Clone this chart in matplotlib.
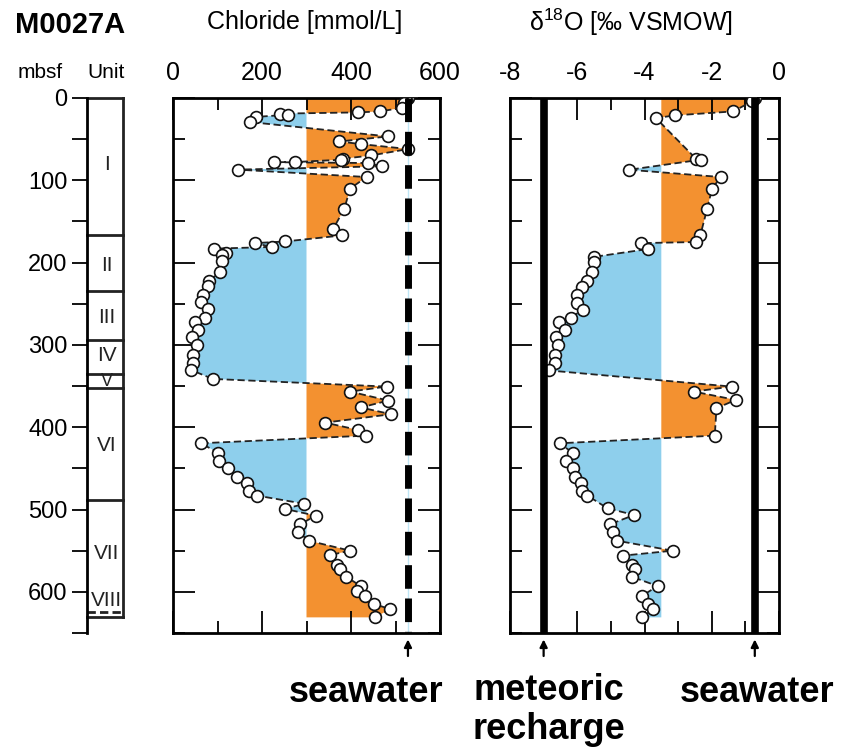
import numpy as np
import matplotlib
matplotlib.use('Agg')
import matplotlib.pyplot as plt
from matplotlib.ticker import MultipleLocator

plt.rcParams['font.family'] = ['Liberation Sans', 'DejaVu Sans']
plt.rcParams['axes.unicode_minus'] = False

# Lithologic units (top depth, bottom depth, label)
unit_tops = [0, 166, 235, 294, 335, 352, 489]
unit_bottoms = [166, 235, 294, 335, 352, 489, 624]
unit_names = ['I', 'II', 'III', 'IV', 'V', 'VI', 'VII']
unit_label_depths = [81, 203, 267, 313, 345, 422, 553]

# Chloride profile
cl_depth = [0.5, 3, 6, 12, 16.3, 17.5, 19, 20.3, 23, 29.2, 46.7, 52.8, 56, 62, 69.8,
            73.8, 75, 77.8, 78, 79, 83, 87, 96, 110, 134.6, 159, 167, 174.3, 176.3,
            181, 183, 188.5, 190.5, 198.6, 210.8, 222, 229, 239, 248, 256.5, 266.7,
            271.6, 281.7, 290.6, 300, 312, 321.4, 330.3, 341.3, 350.6, 356.7, 367.6,
            376, 384.2, 394.4, 403.3, 410.2, 419.5, 430.9, 441, 449, 460, 468, 477,
            483, 493, 499.3, 507.5, 518, 527.7, 538, 550, 555.3, 567.4, 572.7, 581.6,
            593, 599, 604.7, 614.8, 621, 631]
cl_value = [527, 524, 520, 514, 465, 415, 240, 259, 186, 173, 484, 374, 422, 529, 445,
            383, 378, 274, 228, 439, 469, 145, 435, 398, 385, 360, 380, 252, 184,
            222, 93, 120, 109, 109, 106, 82, 78, 67, 64, 79, 72,
            49, 57, 42, 53, 46, 44, 40, 89, 480, 398, 484,
            422, 490, 342, 416, 434, 62, 102, 104, 123, 143, 166, 171,
            188, 295, 252, 321, 285, 282, 306, 398, 353, 368, 375, 389,
            422, 414, 432, 452, 488, 454]

# Oxygen isotope profile
o18_depth = [0.5, 2, 4, 16.3, 21.1, 24.4, 74.2, 75, 87.2, 96, 110, 135, 167, 175, 176.3,
             183.6, 193, 199.4, 211.6, 222, 229.8, 239, 248.5, 257.4, 266.7, 272.4,
             281.7, 290.6, 300, 312, 322, 331, 350.6, 356.7, 366.8, 377, 410.2, 419.5,
             431.6, 441, 449, 460, 468, 477, 483, 498.5, 506.6, 518, 527.7, 537.8, 550,
             556, 567.4, 572.3, 581.6, 593, 605, 615, 621, 631]
o18_value = [-0.72, -0.76, -0.8, -1.36, -3.09, -3.66, -2.46, -2.33, -4.46, -1.73, -1.99,
             -2.14, -2.34, -2.48, -4.11, -3.91, -5.5, -5.5, -5.55, -5.72, -5.87, -6.02,
             -6.02, -5.83, -6.2, -6.53, -6.37, -6.63, -6.58, -6.67, -6.67, -6.85, -1.41,
             -2.53, -1.29, -1.86, -1.91, -6.52, -6.12, -6.32, -6.12, -6.08, -5.9, -5.87,
             -5.7, -5.1, -4.31, -5.03, -4.93, -4.83, -3.16, -4.64, -4.36, -4.28, -4.38,
             -3.61, -4.08, -3.91, -3.76, -4.06]

cl_base = 300
cl_seawater = 528
o18_base = -3.5
o18_meteoric = -7.0
o18_seawater = -0.72

orange = '#F39130'
blue = '#8ECFEC'

W, H = 841, 752
fig = plt.figure(figsize=(W / 100, H / 100), dpi=100)


def px_axes(left, top, right, bottom):
    return fig.add_axes([left / W, 1 - bottom / H, (right - left) / W, (bottom - top) / H])


# ---- unit column ----
axu = px_axes(87, 98, 123, 633)
axu.set_xlim(0, 1)
axu.set_ylim(650, 0)
for s in ['top', 'right', 'bottom']:
    axu.spines[s].set_visible(False)
axu.spines['left'].set_linewidth(2)
axu.set_xticks([])
axu.yaxis.set_major_locator(MultipleLocator(100))
axu.yaxis.set_minor_locator(MultipleLocator(50))
axu.tick_params(axis='y', which='both', direction='out', length=11, width=1.3, labelsize=17, pad=3)
axu.set_yticks(range(0, 601, 100))
for d in unit_tops + [624, 630]:
    axu.plot([0, 1], [d, d], color='#222222', lw=2, clip_on=False,
             ls=(0, (3, 1.5)) if d == 624 else '-')
axu.plot([1, 1], [0, 630], color='#222222', lw=2, clip_on=False)
for name, d in zip(unit_names, unit_label_depths):
    axu.text(0.55, d, name, ha='center', va='center', fontsize=15 if name != 'V' else 13,
             color='#222222')
axu.text(0.55, 610, 'VIII', ha='center', va='center', fontsize=15, color='#222222')


def style_panel(ax, major, minor):
    for s in ax.spines.values():
        s.set_linewidth(2)
    ax.xaxis.set_major_locator(MultipleLocator(major))
    ax.xaxis.set_minor_locator(MultipleLocator(minor))
    ax.yaxis.set_major_locator(MultipleLocator(100))
    ax.yaxis.set_minor_locator(MultipleLocator(50))
    ax.tick_params(which='both', direction='in', top=True, bottom=True, left=True, right=True,
                   labeltop=True, labelbottom=False, labelleft=False, width=1.3)
    ax.tick_params(which='major', length=16)
    ax.tick_params(which='minor', length=8.5)
    ax.tick_params(axis='x', labelsize=18, pad=9)


def draw_profile(ax, depth, value, base):
    depth = np.array(depth)
    value = np.array(value)
    ax.fill_betweenx(depth, value, base, where=value >= base, interpolate=True,
                     color=orange, lw=0, zorder=1)
    ax.fill_betweenx(depth, value, base, where=value <= base, interpolate=True,
                     color=blue, lw=0, zorder=1)
    ax.plot(value, depth, color='#222222', lw=1.3, dashes=(4, 2), zorder=3)
    ax.plot(value, depth, 'o', ms=8.5, mfc='white', mec='#111111', mew=1.2, zorder=4)


# ---- chloride panel ----
axc = px_axes(173, 98, 440, 633)
axc.set_xlim(0, 600)
axc.set_ylim(650, 0)
style_panel(axc, 200, 100)
axc.axvline(cl_seawater, ymax=1, color='#bfe6f5', lw=1, zorder=0)
draw_profile(axc, cl_depth, cl_value, cl_base)
axc.plot([cl_seawater, cl_seawater], [0, 649], color='black', lw=5,
         dashes=(3.4, 1.4), zorder=5, solid_capstyle='butt')

# ---- d18O panel ----
axo = px_axes(510, 98, 779, 633)
axo.set_xlim(-8, 0)
axo.set_ylim(650, 0)
style_panel(axo, 2, 1)
draw_profile(axo, o18_depth, o18_value, o18_base)
axo.axvline(o18_meteoric, color='black', lw=5.5, zorder=5)
axo.axvline(o18_seawater, color='black', lw=5.5, zorder=5)

# arrows below panels
for ax, x in [(axc, cl_seawater), (axo, o18_meteoric), (axo, o18_seawater)]:
    ax.annotate('', xy=(x, -0.012), xytext=(x, -0.043),
                xycoords=('data', 'axes fraction'), textcoords=('data', 'axes fraction'),
                arrowprops=dict(arrowstyle='-|>', color='black', lw=1.6, mutation_scale=11,
                                shrinkA=0, shrinkB=0))

# titles and labels
fig.text(15 / W, 1 - 25 / H, 'M0027A', fontsize=21, fontweight='bold', va='center', ha='left')
fig.text(40 / W, 1 - 72 / H, 'mbsf', fontsize=15, va='center', ha='center')
fig.text(106 / W, 1 - 72 / H, 'Unit', fontsize=15, va='center', ha='center')
fig.text(305 / W, 1 - 22 / H, 'Chloride [mmol/L]', fontsize=18, va='center', ha='center')
fig.text(631 / W, 1 - 22 / H, 'δ$^{\\mathregular{18}}$O [‰ VSMOW]', fontsize=18,
         va='center', ha='center')
fig.text(366 / W, 1 - 692 / H, 'seawater', fontsize=26, fontweight='bold', va='center', ha='center')
fig.text(549 / W, 1 - 710 / H, 'meteoric\nrecharge', fontsize=26, fontweight='bold',
         va='center', ha='center', linespacing=1.15)
fig.text(757 / W, 1 - 692 / H, 'seawater', fontsize=26, fontweight='bold', va='center', ha='center')

fig.savefig('out.png', dpi=100)
